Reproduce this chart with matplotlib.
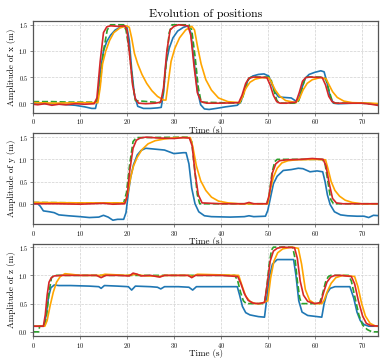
import numpy as np
import matplotlib
matplotlib.use("Agg")
import matplotlib.pyplot as plt

plt.rcParams['font.family'] = 'serif'
plt.rcParams['font.serif'] = ['cmr10']
plt.rcParams['mathtext.fontset'] = 'cm'
plt.rcParams['axes.formatter.use_mathtext'] = True

# ---- x position ----
x_ref_t = [0, 4, 8, 12, 13.5, 14.2, 15, 15.8, 16.5, 19.3, 19.8, 20.5, 21.2, 21.8, 27, 27.6, 28.3, 29.0, 29.6,
           33.2, 33.8, 34.5, 35.2, 35.8, 44, 44.6, 45.3, 46.0, 46.5, 50.2, 50.7, 51.3, 51.9, 52.4, 56.0, 56.6,
           57.3, 57.9, 58.4, 61.8, 62.4, 63.0, 63.7, 64.2, 70, 74]
x_ref = [0.03, 0.03, 0.02, 0.02, 0.02, 0.3, 1.0, 1.4, 1.5, 1.5, 1.4, 1.0, 0.4, 0.05, 0.01, 0.1, 0.7, 1.35, 1.5,
         1.5, 1.4, 0.9, 0.3, 0.02, 0.0, 0.1, 0.3, 0.48, 0.5, 0.5, 0.45, 0.25, 0.06, 0.0, 0.0, 0.05,
         0.28, 0.47, 0.5, 0.5, 0.45, 0.25, 0.05, 0.0, 0.0, -0.02]
x_red_t = [0, 1, 2.5, 4, 5.5, 7, 9, 11, 13, 13.6, 14.3, 15.0, 15.7, 16.5, 18, 19.5, 20.0, 20.6, 21.2, 21.8, 22.5,
           24, 26, 27.2, 27.8, 28.5, 29.2, 30, 31, 33.0, 33.6, 34.3, 35.0, 35.8, 37, 40, 43.8, 44.5, 45.3, 46.0,
           47, 49.8, 50.5, 51.2, 51.9, 52.6, 54, 56.0, 56.7, 57.4, 58.1, 59, 61.6, 62.3, 63.0, 63.7, 64.5, 66,
           70, 72, 74]
x_red = [-0.02, -0.03, -0.01, -0.04, -0.02, -0.03, -0.01, -0.02, -0.01, 0.1, 0.8, 1.35, 1.46, 1.48, 1.47, 1.48,
         1.4, 0.9, 0.35, 0.08, 0.0, -0.01, 0.0, 0.02, 0.3, 1.0, 1.4, 1.47, 1.5, 1.48, 1.3, 0.7, 0.2, 0.03, 0.0,
         0.0, 0.01, 0.15, 0.38, 0.48, 0.5, 0.49, 0.35, 0.15, 0.03, 0.0, 0.0, 0.02, 0.2, 0.42, 0.49, 0.5, 0.49,
         0.35, 0.13, 0.03, 0.0, 0.0, 0.0, -0.02, -0.05]
x_orange_t = [0, 5, 10, 13.8, 14.3, 14.8, 15.5, 16.3, 17.2, 18.5, 20.0, 20.5, 21.0, 21.6, 22.3, 23.2, 24.2, 25.3,
              26.5, 27.8, 28.3, 28.8, 29.4, 30.2, 31.2, 32.5, 33.8, 34.4, 35.0, 35.8, 36.8, 38.0, 39.5, 41.5, 44,
              44.6, 45.3, 46.2, 47.3, 48.8, 50.3, 50.9, 51.6, 52.5, 53.8, 56, 56.8, 57.5, 58.4, 59.5, 61.2, 62.4,
              63.0, 63.8, 64.8, 66.2, 68, 72, 74]
x_orange = [0.01, 0.0, 0.01, 0.01, 0.3, 0.75, 1.0, 1.2, 1.35, 1.44, 1.48, 1.45, 1.25, 0.95, 0.75, 0.55, 0.38, 0.24,
            0.13, 0.06, 0.06, 0.4, 0.8, 1.05, 1.25, 1.4, 1.47, 1.4, 1.1, 0.75, 0.45, 0.25, 0.1, 0.03, 0.01,
            0.12, 0.28, 0.4, 0.46, 0.49, 0.48, 0.38, 0.25, 0.14, 0.05, 0.01, 0.1, 0.25, 0.38, 0.45, 0.49, 0.47,
            0.36, 0.22, 0.11, 0.04, 0.01, 0.0, -0.01]
x_blue_t = [0, 3, 6, 9, 11, 12.5, 13.3, 13.8, 14.3, 15.0, 15.7, 16.5, 17.5, 18.5, 19.5, 20.0, 20.5, 21.0, 21.6,
            22.3, 23.5, 25, 26.5, 27.3, 27.8, 28.3, 29.0, 29.8, 30.8, 32.0, 33.0, 33.6, 34.3, 35.0, 35.7, 36.5,
            37.5, 39, 41, 43.5, 44.3, 45.0, 45.8, 46.8, 48.0, 49.2, 50.2, 50.8, 51.5, 52.3, 53.5, 55.0, 56.0,
            56.7, 57.3, 58.0, 58.8, 60.0, 61.3, 62.0, 62.6, 63.3, 64.0, 65, 68, 71, 74]
x_blue = [0.0, -0.01, -0.02, -0.04, -0.07, -0.1, -0.1, 0.1, 0.6, 1.0, 1.18, 1.3, 1.4, 1.45, 1.48, 1.45, 1.2,
          0.65, 0.15, -0.06, -0.1, -0.1, -0.09, -0.08, 0.2, 0.75, 1.05, 1.25, 1.38, 1.45, 1.48, 1.35, 0.8, 0.25,
          -0.03, -0.11, -0.12, -0.1, -0.07, -0.04, 0.03, 0.25, 0.45, 0.52, 0.55, 0.56, 0.52, 0.38, 0.22, 0.12,
          0.11, 0.1, 0.04, 0.1, 0.3, 0.48, 0.55, 0.59, 0.62, 0.6, 0.4, 0.12, 0.0, -0.01, 0.0, 0.0, -0.03]

# ---- y position ----
y_ref_t = [0, 10, 19.3, 19.9, 20.6, 21.3, 22.0, 33.2, 33.8, 34.4, 35.0, 35.5, 49.8, 50.3, 50.9, 51.5, 52.0,
           61.6, 62.2, 62.8, 63.4, 64.0, 74]
y_ref = [0.03, 0.02, 0.02, 0.25, 0.9, 1.4, 1.49, 1.5, 1.4, 0.8, 0.2, 0.0, 0.0, 0.2, 0.7, 0.95, 1.0,
         1.0, 0.9, 0.5, 0.1, 0.0, 0.0]
y_red_t = [0, 5, 10, 15, 17, 19.5, 20.0, 20.6, 21.3, 22.0, 22.8, 24, 27, 30, 32, 33.3, 33.9, 34.5, 35.2, 36.0,
           40, 45, 46, 47, 49.8, 50.3, 51.0, 51.7, 52.5, 54, 57, 59.5, 61.8, 62.4, 63.1, 63.8, 64.6, 66, 74]
y_red = [0.0, 0.0, -0.01, 0.01, -0.01, 0.0, 0.15, 0.75, 1.25, 1.43, 1.48, 1.5, 1.48, 1.47, 1.49, 1.48, 1.3, 0.7,
         0.2, 0.02, 0.0, 0.0, 0.03, 0.0, 0.0, 0.2, 0.7, 0.9, 0.97, 0.99, 1.0, 1.02, 1.0, 0.85, 0.45, 0.12, 0.02,
         0.0, 0.0]
y_orange_t = [0, 10, 19.6, 20.2, 20.8, 21.4, 22.2, 23.2, 24.5, 26, 28, 30.5, 33.5, 34.0, 34.8, 35.7, 36.8, 38.0,
              39.5, 41.5, 44, 50, 50.5, 51.2, 52.0, 53.0, 54.3, 56, 60, 62.3, 62.8, 63.5, 64.3, 65.3, 66.5, 68,
              70, 74]
y_orange = [0.03, 0.02, 0.02, 0.25, 0.6, 0.85, 1.05, 1.22, 1.35, 1.42, 1.46, 1.49, 1.49, 1.3, 0.85, 0.52, 0.3,
            0.15, 0.06, 0.02, 0.0, 0.0, 0.3, 0.6, 0.8, 0.92, 0.97, 0.99, 1.0, 0.99, 0.8, 0.5, 0.3, 0.17, 0.08,
            0.03, 0.0, 0.0]
y_blue_t = [0, 1.0, 1.5, 2.2, 3.5, 4.5, 5.5, 7.5, 10, 12, 14, 15, 16, 17, 18, 19.3, 19.8, 20.3, 20.8, 21.4, 22.2,
            23, 24, 26, 28, 30, 32, 32.6, 33.2, 33.8, 34.5, 35.3, 36.5, 38, 42, 45, 46, 47, 49.5, 50.0, 50.6,
            51.2, 52, 53.3, 55, 56.5, 57.5, 59, 60.5, 61.7, 62.2, 62.7, 63.3, 64.2, 65.5, 67, 69, 70.5, 71.5,
            72.5, 74]
y_blue = [0.0, 0.0, -0.05, -0.16, -0.18, -0.2, -0.25, -0.27, -0.29, -0.31, -0.3, -0.26, -0.3, -0.37, -0.35,
          -0.35, -0.2, 0.25, 0.6, 0.88, 1.1, 1.2, 1.25, 1.23, 1.21, 1.13, 1.15, 1.15, 0.9, 0.35, 0.0, -0.18,
          -0.27, -0.29, -0.3, -0.29, -0.27, -0.29, -0.28, -0.15, 0.15, 0.45, 0.62, 0.75, 0.77, 0.8, 0.79, 0.72,
          0.74, 0.72, 0.5, 0.2, -0.02, -0.18, -0.25, -0.27, -0.28, -0.28, -0.31, -0.26, -0.27]

# ---- z position ----
z_ref_t = [0, 1.2, 1.4, 2.5, 2.9, 3.4, 3.9, 4.4, 43.0, 43.6, 44.2, 44.8, 45.4, 49.3, 49.8, 50.3, 50.8, 51.2,
           55.3, 55.8, 56.3, 56.8, 57.2, 61.0, 61.6, 62.3, 62.9, 63.4, 67.2, 67.8, 68.6, 69.4, 70.2, 71.2,
           72.2, 74]
z_ref = [0.0, 0.0, 0.1, 0.1, 0.3, 0.7, 0.95, 1.0, 1.0, 0.9, 0.7, 0.55, 0.5, 0.5, 0.8, 1.2, 1.45, 1.5,
         1.5, 1.3, 0.9, 0.6, 0.5, 0.5, 0.65, 0.88, 0.98, 1.0, 1.0, 0.9, 0.6, 0.3, 0.12, 0.04,
         0.0, 0.0]
z_red_t = [0, 2.2, 2.6, 3.0, 3.4, 3.9, 4.5, 6, 10, 13.5, 14.5, 15.5, 18, 20.5, 21.3, 22.2, 23, 25, 27, 28, 30, 33,
           33.8, 34.6, 36, 40, 43.6, 44.3, 45.0, 45.8, 46.8, 48, 49.3, 49.9, 50.5, 51.2, 52, 53, 55.7, 56.3,
           56.9, 57.6, 58.5, 60, 61.3, 61.9, 62.6, 63.4, 64.3, 65.5, 67.8, 68.5, 69.3, 70.2, 71.0, 72, 74]
z_red = [0.1, 0.1, 0.3, 0.65, 0.88, 0.96, 0.99, 1.0, 1.0, 1.0, 0.96, 1.0, 1.0, 0.99, 1.04, 1.02, 0.99, 1.0, 0.97,
         1.0, 1.0, 1.0, 0.96, 1.0, 1.0, 1.0, 0.98, 0.85, 0.68, 0.56, 0.51, 0.5, 0.52, 0.85, 1.25, 1.43, 1.48,
         1.5, 1.49, 1.3, 0.9, 0.65, 0.54, 0.5, 0.52, 0.7, 0.88, 0.97, 1.0, 1.0, 0.98, 0.85, 0.55, 0.28, 0.15,
         0.11, 0.1]
z_orange_t = [0, 2.5, 3.0, 3.6, 4.3, 5.0, 5.8, 6.8, 8, 10, 14.5, 15.3, 20, 22, 23, 27, 28, 33, 34, 35, 43.8, 44.5,
              45.3, 46.2, 47.3, 48.5, 50.0, 50.6, 51.3, 52.1, 53.2, 55, 56.5, 57.2, 58.0, 58.9, 60, 61.5, 62.0,
              62.7, 63.5, 64.5, 66, 68.5, 69.2, 70.0, 70.8, 71.8, 73, 74]
z_orange = [0.1, 0.1, 0.2, 0.45, 0.7, 0.88, 0.98, 1.03, 1.02, 1.0, 1.0, 1.02, 1.0, 1.02, 1.0, 0.98, 1.0, 1.0,
            0.98, 1.02, 1.0, 0.82, 0.63, 0.54, 0.5, 0.5, 0.55, 0.95, 1.25, 1.4, 1.47, 1.5, 1.48, 1.2, 0.75,
            0.56, 0.5, 0.5, 0.56, 0.72, 0.86, 0.96, 1.0, 0.98, 0.8, 0.5, 0.28, 0.15, 0.1, 0.1]
z_blue_t = [0, 2.3, 2.8, 3.3, 3.8, 4.5, 5.5, 8, 12, 14, 14.5, 15.2, 18, 20.3, 21.0, 21.8, 25, 26.5, 27.2, 28, 31,
            33.2, 34.0, 34.8, 38, 43.5, 44.0, 44.6, 45.3, 46.2, 48, 49.3, 49.8, 50.4, 51.0, 52, 55.5, 56.0, 56.6,
            57.3, 58.5, 61.5, 62.0, 62.6, 63.3, 64.3, 67.5, 68.3, 69.0, 69.7, 70.5, 71.5, 74]
z_blue = [0.1, 0.1, 0.3, 0.62, 0.78, 0.83, 0.82, 0.82, 0.81, 0.8, 0.77, 0.82, 0.81, 0.8, 0.74, 0.81, 0.8, 0.79,
          0.76, 0.8, 0.8, 0.79, 0.74, 0.8, 0.8, 0.8, 0.65, 0.45, 0.34, 0.3, 0.27, 0.26, 0.6, 1.0, 1.2, 1.28,
          1.28, 1.0, 0.55, 0.35, 0.29, 0.26, 0.5, 0.68, 0.77, 0.8, 0.8, 0.6, 0.35, 0.2, 0.13, 0.1, 0.1]

panels = [
    ('x', (x_blue_t, x_blue), (x_ref_t, x_ref), (x_orange_t, x_orange), (x_red_t, x_red), (-0.18, 1.57)),
    ('y', (y_blue_t, y_blue), (y_ref_t, y_ref), (y_orange_t, y_orange), (y_red_t, y_red), (-0.46, 1.6)),
    ('z', (z_blue_t, z_blue), (z_ref_t, z_ref), (z_orange_t, z_orange), (z_red_t, z_red), (-0.07, 1.55)),
]

fig, axes = plt.subplots(3, 1, figsize=(3.8, 3.58), dpi=100)
fig.subplots_adjust(left=0.087, right=0.995, top=0.941, bottom=0.062, hspace=0.22)

for ax, (name, blue, ref, orange, red, ylim) in zip(axes, panels):
    ax.plot(*blue, color='#1f77b4', lw=1.2)
    ax.plot(*ref, color='#2ca02c', lw=1.2, ls='--')
    ax.plot(*orange, color='orange', lw=1.2)
    ax.plot(*red, color='#d62728', lw=1.2)
    ax.set_xlim(0, 73.5)
    ax.set_ylim(*ylim)
    ax.set_xticks([0, 10, 20, 30, 40, 50, 60, 70])
    ax.set_yticks([0.0, 0.5, 1.0, 1.5])
    ax.grid(True, ls='--', color='#d0d0d0', lw=0.5)
    ax.tick_params(labelsize=4.5, length=2, width=0.5, color='#555555', pad=1.5)
    for s in ax.spines.values():
        s.set_color('#555555')
        s.set_linewidth(0.9)
    ax.set_ylabel(f'Amplitude of {name} (m)', fontsize=6.5, labelpad=2)
    ax.set_xlabel('Time (s)', fontsize=6.5, labelpad=-0.5)
    ax.xaxis.label.set_zorder(5)

axes[0].set_title('Evolution of positions', fontsize=8.5, pad=3)

fig.savefig('out.png', dpi=100)
